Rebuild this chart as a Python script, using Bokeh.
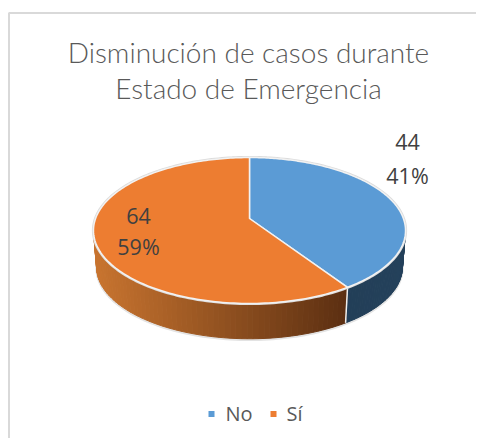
import numpy as np
from bokeh.plotting import figure
from bokeh.models import Range1d
from bokeh.core.properties import value
from bokeh.embed import file_html
from bokeh.resources import INLINE

title_lines = ["Disminución de casos durante", "Estado de Emergencia"]
categories = ["No", "Sí"]
counts = [44, 64]
percents = ["41%", "59%"]
top_colors = ["#5b9bd5", "#ed7d31"]
side_left = ["#1f3a52", "#c8742f"]
side_right = ["#24415b", "#5a2e11"]

# Perspective model of the pie (screen pixels)
CX, APEX_Y, A, C, B, DEPTH, BOT_SCALE = 249.0, 218.0, 71.0, 0.1644, 153.9, 37.0, 0.98


def rim(t, scale=1.0, dy=0.0):
    u, v = np.sin(t), np.cos(t)
    d = 1 + C * v
    return CX + scale * B * u / d, APEX_Y - scale * A * v / d + dy


def hex_mix(c1, c2, f):
    a = np.array([int(c1[i:i + 2], 16) for i in (1, 3, 5)])
    b = np.array([int(c2[i:i + 2], 16) for i in (1, 3, 5)])
    m = (a + (b - a) * f).round().astype(int)
    return "#%02x%02x%02x" % tuple(m)


p = figure(width=476, height=438, output_backend="svg", toolbar_location=None,
           x_range=Range1d(0, 476), y_range=Range1d(438, 0),
           min_border=0, outline_line_color=None, background_fill_color="white")
p.axis.visible = False
p.grid.visible = False
p.min_border_left = p.min_border_right = p.min_border_top = p.min_border_bottom = 0

# chart frame
p.line([8.5, 8.5, 476], [438, 12.5, 12.5], line_color="#d9d9d9", line_width=2)

total = sum(counts)
edges = np.concatenate([[0], np.cumsum(counts) / total * 2 * np.pi])

# soft halo below the bottom edge
tt = np.linspace(0, 2 * np.pi, 241)
hx, hy = rim(tt, BOT_SCALE, DEPTH)
p.line(hx, hy + 1, line_color="#e3e3e3", line_width=2.5)

# side wall as gradient strips
xs, ys, cols = [], [], []
for i in range(len(counts)):
    ts = np.linspace(edges[i], edges[i + 1], 120)
    x_all = rim(ts, BOT_SCALE, DEPTH)[0]
    for a0, a1 in zip(ts[:-1], ts[1:]):
        x0, y0 = rim(a0)
        x1, y1 = rim(a1)
        x2, y2 = rim(a1, BOT_SCALE, DEPTH)
        x3, y3 = rim(a0, BOT_SCALE, DEPTH)
        xs.append([x0, x1, x2, x3])
        ys.append([y0, y1, y2, y3])
        f = (x2 - x_all.min()) / (x_all.max() - x_all.min())
        cols.append(hex_mix(side_left[i], side_right[i], f))
p.patches(xs, ys, fill_color=cols, line_color=cols, line_width=1.0)

# seam between the slices on the wall
sx0, sy0 = rim(edges[1])
sx1, sy1 = rim(edges[1], BOT_SCALE, DEPTH)
p.line([sx0, sx1], [sy0, sy1], line_color="#eeeeee", line_width=1.5)

# top face
ox, oy = rim(tt)
p.line(ox, oy, line_color="#dcdcdc", line_width=3.2)
for i in range(len(counts)):
    ts = np.linspace(edges[i], edges[i + 1], 180)
    rx, ry = rim(ts)
    p.patch(np.r_[CX, rx], np.r_[APEX_Y, ry], fill_color=top_colors[i],
            line_color="#f2f2f2", line_width=1.5, line_join="round")

FONT = value("Open Sans")
# title
p.text([248, 248], [51, 87], text=title_lines, text_font=value("Lato Light"), text_font_size="28px",
       text_color="#595959", text_align="center", text_baseline="middle")
# data labels
p.text([407, 407], [141, 175], text=[str(counts[0]), percents[0]], text_font=FONT,
       text_font_size="21.5px", text_color="#404040", text_align="center", text_baseline="middle")
p.text([138, 138], [215, 246], text=[str(counts[1]), percents[1]], text_font=FONT,
       text_font_size="21.5px", text_color="#404040", text_align="center", text_baseline="middle")
# legend
p.rect([211, 273], [413.5, 413.5], width=6, height=6, fill_color=top_colors, line_color=None)
p.text([225, 286], [413, 413], text=categories, text_font=FONT, text_font_size="20px",
       text_color="#595959", text_align="left", text_baseline="middle")

open("out.html", "w").write(file_html(p, INLINE))
